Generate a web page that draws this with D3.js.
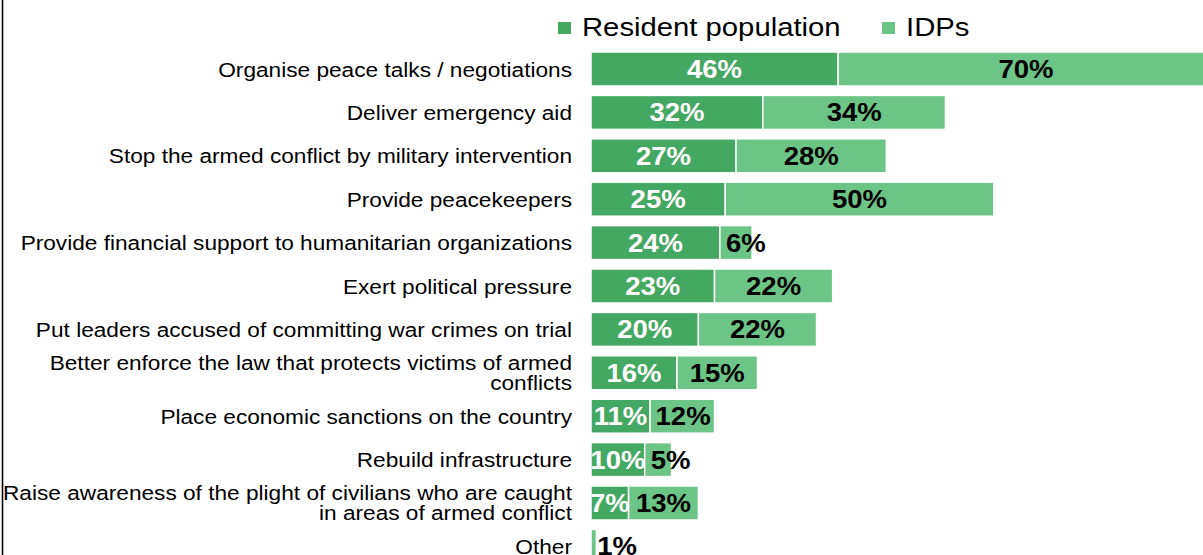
<!DOCTYPE html>
<html>
  <head>
    <style>
      html,
      body { margin: 0; background: #fff; }
      svg { display: block; font-family: "Liberation Sans", Arial, sans-serif; }
    </style>
    <script src="https://d3js.org/d3.v7.js"></script>
  </head>
  <body>
    <svg class="chart"></svg>

    <script>
      const width = 1203;
      const height = 555;

      const categories = [
        ['Organise peace talks / negotiations'],
        ['Deliver emergency aid'],
        ['Stop the armed conflict by military intervention'],
        ['Provide peacekeepers'],
        ['Provide financial support to humanitarian organizations'],
        ['Exert political pressure'],
        ['Put leaders accused of committing war crimes on trial'],
        ['Better enforce the law that protects victims of armed', 'conflicts'],
        ['Place economic sanctions on the country'],
        ['Rebuild infrastructure'],
        ['Raise awareness of the plight of civilians who are caught', 'in areas of armed conflict'],
        ['Other']
      ];
      const resident = [46, 32, 27, 25, 24, 23, 20, 16, 11, 10, 7, 0];
      const idps = [70, 34, 28, 50, 6, 22, 22, 15, 12, 5, 13, 1];
      const seriesNames = ['Resident population', 'IDPs'];
      const colors = ['#44a862', '#6cc487'];

      // the source picture is a little wider than plain Arial
      const stretch = 1.1;

      const svg = d3.select('svg')
        .attr('width', width)
        .attr('height', height);

      const x = d3.scaleLinear()
        .domain([0, 100])
        .range([591, 591 + 537]);

      const y = d3.scaleBand()
        .domain(d3.range(categories.length))
        .range([42.6, 572.8])
        .padding(0.217);

      // left frame line
      svg.append('line')
        .attr('x1', 2.5).attr('x2', 2.5)
        .attr('y1', 0).attr('y2', height)
        .attr('stroke', '#000')
        .attr('stroke-width', 1.6);

      // put a stretched text at (px, py)
      const addText = (parent, px, py, txt, size, opts = {}) => {
        return parent.append('g')
          .attr('transform', `translate(${px},${py}) scale(${stretch},1)`)
          .append('text')
          .attr('text-anchor', opts.anchor || 'start')
          .style('font-size', `${size}px`)
          .style('font-weight', opts.weight || 'normal')
          .attr('fill', opts.fill || '#000')
          .text(txt);
      };

      const rows = categories.map((c, i) => ({
        lines: c,
        values: [resident[i], idps[i]],
        i
      }));

      const bars = svg.append('g');
      const labels = svg.append('g');

      rows.forEach((r) => {
        const cy = y(r.i) + y.bandwidth() / 2;

        // category label, right aligned
        const n = r.lines.length;
        r.lines.forEach((line, k) => {
          const ly = cy + 7.5 + (k - (n - 1) / 2) * 20;
          addText(labels, 572, ly, line, 20.6, { anchor: 'end' });
        });

        let start = 0;
        r.values.forEach((v, s) => {
          if (v > 0) {
            bars.append('rect')
              .attr('x', x(start))
              .attr('y', y(r.i))
              .attr('width', x(start + v) - x(start))
              .attr('height', y.bandwidth())
              .attr('fill', colors[s])
              .attr('stroke', '#fff')
              .attr('stroke-width', 1.5);

            const txt = `${v}%`;
            const size = 25;
            const tw = txt.length === 2 ? 40 : 54;
            const mid = (x(start) + x(start + v)) / 2;
            const lx = s === 0 ? mid : Math.max(mid, x(start) + tw / 2 + 6);
            addText(labels, lx, cy + 9, txt, size, {
              anchor: 'middle',
              weight: 'bold',
              fill: s === 0 ? '#fff' : '#000'
            });
          }
          start += v;
        });
      });

      // legend
      const legend = svg.append('g');
      const legendX = [558, 882];
      seriesNames.forEach((name, s) => {
        legend.append('rect')
          .attr('x', legendX[s])
          .attr('y', 22)
          .attr('width', 13)
          .attr('height', 12)
          .attr('fill', colors[s]);
        addText(legend, legendX[s] + 24, 36, name, 26.6);
      });
    </script>
  </body>
</html>
